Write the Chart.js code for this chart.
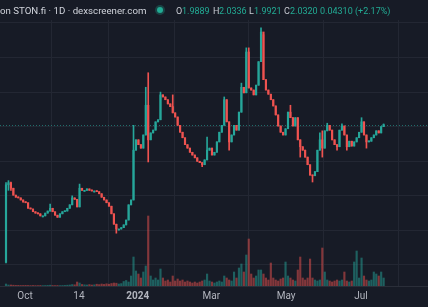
<!DOCTYPE html>
<html>
<head>
<meta charset="utf-8">
<script src="https://cdn.jsdelivr.net/npm/chart.js@4.4.1/dist/chart.umd.min.js"></script>
<style>
  html, body { margin: 0; padding: 0; background: #171b26; }
  #wrap { position: relative; width: 428px; height: 307px; overflow: hidden; }
  canvas { display: block; }
  .h { position: absolute; top: 4px; white-space: nowrap; font-family: Roboto, "Liberation Sans", sans-serif; line-height: 14px; }
  .title { font-size: 9.7px; color: #d1d4dc; }
  .k { font-size: 9px; color: #c8cbd3; }
  .v { font-size: 9px; color: #22ab94; }
  .dot { position: absolute; left: 157px; top: 7px; width: 6px; height: 6px; border-radius: 50%;
         background: #22ab94; box-shadow: 0 0 0 2px rgba(34,171,148,0.28); }
</style>
</head>
<body>
<div id="wrap">
  <canvas id="chart" width="428" height="307"></canvas>
  <span class="h title" style="left:0">on STON.fi · 1D · dexscreener.com</span>
  <span class="dot"></span>
  <span class="h k" style="left:176px">O</span><span class="h v" style="left:182px">1.9889</span>
  <span class="h k" style="left:213px">H</span><span class="h v" style="left:219px">2.0336</span>
  <span class="h k" style="left:249px">L</span><span class="h v" style="left:254px">1.9921</span>
  <span class="h k" style="left:284px">C</span><span class="h v" style="left:290px">2.0320</span>
  <span class="h v" style="left:320px">0.04310 (+2.17%)</span>
</div>
<script>
// 2-day candles, day numbers counted from 1 Oct 2023
const startDay = -15.5;
const stepDays = 2;

const opens = [0.04,1.16,1.19,1.11,1.01,0.98,0.97,0.94,0.91,0.90,
  0.82,0.81,0.77,0.75,0.74,0.71,0.71,0.75,0.78,0.82,
  0.77,0.72,0.69,0.74,0.77,0.78,0.82,0.87,0.97,0.95,
  0.84,1.11,1.08,1.08,1.10,1.08,1.07,1.07,1.06,1.03,
  0.98,0.94,0.90,0.85,0.74,0.59,0.52,0.52,0.54,0.58,
  0.65,0.87,0.94,1.66,1.81,1.74,1.69,1.88,2.31,1.81,
  1.91,1.95,2.07,2.10,2.46,2.43,2.39,2.33,2.29,2.20,
  2.14,2.02,1.92,1.84,1.74,1.69,1.63,1.59,1.55,1.50,
  1.48,1.45,1.52,1.66,1.69,1.59,1.63,1.78,1.92,2.02,
  2.39,2.07,1.78,1.88,2.02,1.95,2.21,2.57,2.49,3.08,
  2.56,2.53,2.46,2.60,2.94,3.37,2.68,2.53,2.47,2.39,
  2.30,2.17,2.01,1.92,1.88,1.97,2.21,2.13,2.01,2.13,
  1.81,1.71,1.66,1.56,1.45,1.30,1.29,1.35,1.66,1.81,
  1.69,1.94,2.02,1.95,1.81,1.74,1.71,1.95,2.01,1.88,
  1.71,1.79,1.72,1.78,1.84,1.92,2.07,1.88,1.78,1.79,
  1.84,1.88,1.94,1.91,2.00];

const closes = [1.16,1.19,1.11,1.01,0.98,0.97,0.94,0.91,0.90,0.82,
  0.81,0.77,0.75,0.74,0.71,0.71,0.75,0.78,0.82,0.77,
  0.72,0.69,0.74,0.77,0.78,0.82,0.87,0.97,0.95,0.84,
  1.11,1.08,1.08,1.10,1.08,1.07,1.07,1.06,1.03,0.98,
  0.94,0.90,0.85,0.74,0.59,0.52,0.52,0.54,0.58,0.65,
  0.87,0.94,1.66,1.81,1.74,1.69,1.88,2.31,1.81,1.91,
  1.95,2.07,2.10,2.46,2.43,2.39,2.33,2.29,2.20,2.14,
  2.02,1.92,1.84,1.74,1.69,1.63,1.59,1.55,1.50,1.48,
  1.45,1.52,1.66,1.69,1.59,1.63,1.78,1.92,2.02,2.39,
  2.07,1.78,1.88,2.02,1.95,2.21,2.57,2.49,3.08,2.56,
  2.53,2.46,2.60,2.94,3.37,2.68,2.53,2.47,2.39,2.30,
  2.17,2.01,1.92,1.88,1.97,2.21,2.13,2.01,2.13,1.81,
  1.71,1.66,1.56,1.45,1.30,1.29,1.35,1.66,1.81,1.69,
  1.94,2.02,1.95,1.81,1.74,1.71,1.95,2.01,1.88,1.71,
  1.79,1.72,1.78,1.84,1.92,2.07,1.88,1.78,1.79,1.84,
  1.88,1.94,1.91,2.00,2.03];

// [candle index, price] for the wicks that stick out past the body
const wickHighs = [[0,1.19],[1,1.22],[2,1.20],[18,0.88],[27,1.00],[30,1.17],[52,2.02],[57,2.57],
  [58,2.78],[63,2.50],[68,2.46],[82,1.85],[89,2.43],[96,2.63],[98,3.14],[99,3.14],[104,3.43],
  [105,3.33],[116,2.31],[128,1.91],[129,1.94],[131,2.05],[137,2.04],[145,2.13],[154,2.04]];
const wickLows = [[0,0.03],[1,1.08],[2,1.08],[45,0.46],[58,1.49],[80,1.42],[91,1.66],[120,1.56],
  [125,1.20],[129,1.56],[135,1.66],[139,1.66],[147,1.69]];

// volume, $K
const volumes = [20,10,10,8,6,6,5,5,6,5,
  4,5,4,4,5,4,5,6,8,5,
  4,5,4,5,6,8,10,14,12,40,
  30,15,12,10,14,10,12,18,14,20,
  16,22,18,25,30,28,20,24,45,55,
  40,100,290,150,120,80,140,200,700,100,
  60,80,60,170,80,50,60,40,100,50,
  70,50,60,40,50,40,30,40,30,40,
  50,60,120,50,40,30,40,50,40,100,
  80,60,50,140,80,180,220,140,310,470,
  120,80,100,160,160,120,80,60,230,80,
  60,50,70,80,240,100,80,60,50,160,
  290,80,60,80,270,80,60,50,60,380,
  140,60,50,40,50,60,50,60,140,50,
  40,50,240,350,80,280,100,60,50,60,
  140,120,100,140,80];

const tickDays = [0, 44, 92, 152, 213, 274];
const tickLabels = ['Oct', '14', '2024', 'Mar', 'May', 'Jul'];
const priceGrid = [0, 0.5, 1, 1.5, 2, 2.5, 3, 3.5];

const UP = '#26a69a', DOWN = '#ef5350';
const FONT = 'Roboto, "Liberation Sans", sans-serif';

const days = closes.map((c, i) => startDay + stepDays * i);
const hiMap = new Map(wickHighs), loMap = new Map(wickLows);
const isUp = closes.map((c, i) => c >= opens[i]);

const wicks = days.map((d, i) => ({
  x: d,
  y: [loMap.has(i) ? loMap.get(i) : Math.min(opens[i], closes[i]),
      hiMap.has(i) ? hiMap.get(i) : Math.max(opens[i], closes[i])]
}));
const bodies = days.map((d, i) => ({ x: d, y: [opens[i], closes[i]] }));
const vols = days.map((d, i) => ({ x: d, y: volumes[i] }));

const lastPriceLine = {
  id: 'lastPriceLine',
  beforeDatasetsDraw(chart) {
    const { ctx, chartArea, scales } = chart;
    const y = Math.round(scales.y.getPixelForValue(closes[closes.length - 1])) + 0.5;
    ctx.save();
    ctx.strokeStyle = 'rgba(38,166,154,0.6)';
    ctx.lineWidth = 1;
    ctx.setLineDash([1, 2]);
    ctx.beginPath();
    ctx.moveTo(chartArea.left, y);
    ctx.lineTo(chartArea.right, y);
    ctx.stroke();
    ctx.restore();
  }
};

new Chart(document.getElementById('chart'), {
  type: 'bar',
  data: {
    datasets: [
      { data: bodies, yAxisID: 'y', grouped: false, order: 1, barThickness: 1.5, minBarLength: 1,
        backgroundColor: isUp.map(u => u ? UP : DOWN) },
      { data: wicks, yAxisID: 'y', grouped: false, order: 2, barThickness: 1, minBarLength: 1,
        backgroundColor: isUp.map(u => u ? UP : DOWN) },
      { data: vols, yAxisID: 'yv', grouped: false, order: 3, barThickness: 1.5,
        backgroundColor: isUp.map(u => u ? 'rgba(38,166,154,0.5)' : 'rgba(239,83,80,0.5)') }
    ]
  },
  options: {
    responsive: false,
    devicePixelRatio: 1,
    animation: false,
    layout: { padding: { top: 20, left: 0, right: 0, bottom: 0 } },
    plugins: { legend: { display: false }, tooltip: { enabled: false } },
    scales: {
      x: {
        type: 'linear', min: -20.4, max: 328.7, offset: false,
        afterBuildTicks: s => { s.ticks = tickDays.map(v => ({ value: v })); },
        afterFit: s => { s.height = 21; },
        ticks: {
          autoSkip: false, maxRotation: 0, padding: 4, color: '#b2b5be',
          font: c => ({ family: FONT, size: 10, weight: c.tick && c.tick.value === 92 ? 'bold' : 'normal' }),
          callback: v => tickLabels[tickDays.indexOf(v)]
        },
        grid: { color: '#232733', drawTicks: false },
        border: { display: true, color: '#2a2e39' }
      },
      y: {
        min: -0.304, max: 3.543,
        afterBuildTicks: s => { s.ticks = priceGrid.map(v => ({ value: v })); },
        afterFit: s => { s.width = 0; },
        ticks: { display: false },
        grid: { color: '#232733', drawTicks: false },
        border: { display: false }
      },
      yv: { display: false, min: 0, max: 2660 }
    }
  },
  plugins: [lastPriceLine]
});
</script>
</body>
</html>
